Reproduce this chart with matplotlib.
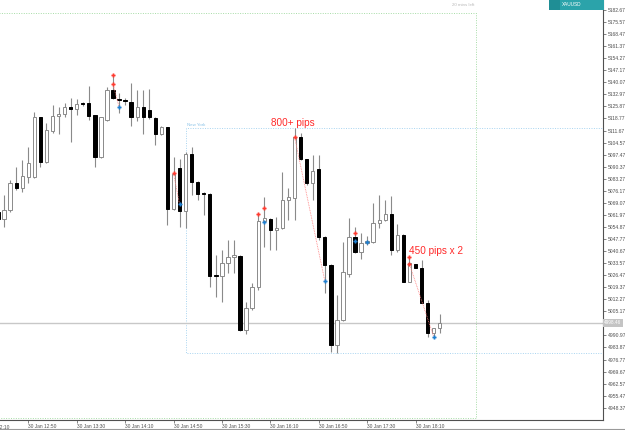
import numpy as np
import matplotlib
matplotlib.use("Agg")
import matplotlib.pyplot as plt
from matplotlib.patches import Rectangle

# ---------------- data (XAUUSD, M5, 30 Jan) ----------------
first_time = "12:25"   # time of first (partially visible) candle
bar_minutes = 5

opens = [5063.9, 5059.4, 5064.9, 5080.6, 5077.6, 5084.5, 5084.1, 5119.5, 5093.3, 5111.6,
         5120.4, 5121.2, 5125.5, 5124.2, 5127.7, 5127.7, 5120.6, 5096.3, 5117.9, 5135.5,
         5130.2, 5129.5, 5128.6, 5119.5, 5125.3, 5123.8, 5118.9, 5109.6, 5113.6, 5065.3,
         5089.4, 5064.3, 5097.8, 5081.5, 5075.0, 5074.3, 5026.4, 5026.0, 5033.5, 5037.0,
         5037.9, 4994.2, 5007.3, 5019.7, 5058.4, 5059.5, 5053.1, 5054.1, 5070.7, 5071.7,
         5108.0, 5094.7, 5080.6, 5088.8, 5049.1, 5032.5, 4985.3, 5000.1, 5027.2, 5049.1,
         5039.9, 5045.7, 5046.0, 5057.0, 5059.0, 5062.3, 5041.3, 5050.1, 5022.6, 5032.9,
         5030.5, 5010.2, 4992.2, 4995.2]
highs = [5065.4, 5073.7, 5082.5, 5090.4, 5094.3, 5101.8, 5122.8, 5119.8, 5115.9, 5126.7,
         5125.7, 5128.1, 5130.7, 5130.1, 5128.6, 5137.9, 5120.8, 5119.8, 5137.1, 5144.6,
         5133.6, 5130.7, 5139.8, 5135.5, 5135.5, 5136.1, 5119.6, 5114.3, 5113.9, 5096.1,
         5094.7, 5099.2, 5101.8, 5081.9, 5075.6, 5074.9, 5038.3, 5041.3, 5047.2, 5047.2,
         5038.3, 5010.8, 5022.0, 5062.5, 5072.3, 5060.0, 5060.6, 5087.4, 5077.6, 5113.0,
         5110.0, 5094.9, 5097.3, 5097.3, 5049.5, 5033.0, 5014.8, 5046.2, 5060.0, 5055.0,
         5051.1, 5049.5, 5068.8, 5073.7, 5070.7, 5073.1, 5056.6, 5050.7, 5037.0, 5033.0,
         5035.4, 5011.8, 4995.3, 5003.6]
lows = [5058.4, 5055.0, 5063.9, 5076.6, 5075.6, 5080.9, 5083.5, 5090.0, 5092.7, 5110.0,
        5109.6, 5119.5, 5105.1, 5120.8, 5126.1, 5117.9, 5090.0, 5095.3, 5117.5, 5130.1,
        5121.8, 5126.7, 5114.3, 5117.5, 5109.6, 5118.5, 5103.1, 5109.0, 5056.0, 5064.9,
        5055.0, 5054.1, 5073.7, 5070.7, 5061.9, 5019.3, 5013.4, 5010.8, 5027.6, 5027.9,
        4993.7, 4991.8, 5005.9, 5017.7, 5043.2, 5041.3, 5041.3, 5053.5, 5059.0, 5059.0,
        5094.3, 5079.6, 5070.7, 5047.2, 5015.8, 4981.4, 4980.4, 4999.5, 5025.6, 5039.3,
        5035.8, 5044.2, 5045.2, 5054.1, 5058.5, 5038.3, 5040.3, 5022.3, 5022.3, 5030.7,
        5010.1, 4990.2, 4990.0, 4992.2]
closes = [5059.4, 5064.9, 5080.6, 5077.6, 5084.9, 5092.4, 5119.5, 5093.3, 5112.0, 5120.2,
          5121.4, 5125.7, 5124.4, 5127.3, 5127.3, 5120.2, 5096.3, 5119.5, 5135.5, 5130.7,
          5129.7, 5128.9, 5119.5, 5125.3, 5119.8, 5119.6, 5109.6, 5113.6, 5065.3, 5086.1,
          5064.3, 5097.8, 5081.5, 5074.3, 5074.3, 5026.0, 5026.0, 5033.5, 5037.3, 5038.3,
          4994.2, 5007.3, 5019.3, 5058.4, 5060.0, 5053.1, 5054.4, 5070.7, 5072.3, 5108.0,
          5094.7, 5080.6, 5088.0, 5049.1, 5032.5, 4985.3, 5000.1, 5028.2, 5049.1, 5039.9,
          5045.2, 5046.3, 5057.0, 5059.0, 5062.3, 5041.3, 5050.1, 5022.6, 5033.5, 5030.9,
          5010.2, 4992.2, 4995.2, 4998.5]

current_price = 4998.46

# signal arrows
sell_times = ["14:00", "14:00", "14:50", "16:00", "16:05", "16:30", "17:20", "18:05", "18:05"]
sell_prices = [5144.6, 5139.1, 5086.5, 5062.3, 5065.9, 5108.0, 5051.1, 5037.0, 5033.0]
exit_times = ["14:05", "14:55", "16:05", "16:55", "17:20", "17:30", "18:25"]
exit_prices = [5125.5, 5068.2, 5057.6, 5023.2, 5046.8, 5046.0, 4990.2]
trade_from_times = ["14:00", "14:50", "16:30", "18:05"]
trade_from_prices = [5139.1, 5086.5, 5108.0, 5033.0]
trade_to_times = ["14:05", "14:55", "16:55", "18:25"]
trade_to_prices = [5125.5, 5068.2, 5023.2, 4990.2]

# price axis ticks
price_ticks = [4948.37, 4955.47, 4962.57, 4969.67, 4976.77, 4983.87, 4990.97, 4998.07,
               5005.17, 5012.27, 5019.37, 5026.47, 5033.57, 5040.67, 5047.77, 5054.87,
               5061.97, 5069.07, 5076.17, 5083.27, 5090.37, 5097.47, 5104.57, 5111.67,
               5118.77, 5125.87, 5132.97, 5140.07, 5147.17, 5154.27, 5161.37, 5168.47,
               5175.57, 5182.67]
hidden_tick = 4998.07  # covered by the current-price label
time_ticks = ["12:10", "12:50", "13:30", "14:10", "14:50", "15:30", "16:10", "16:50",
              "17:30", "18:10"]
date_label = "30 Jan"

session_name = "New York"
session_start = "15:00"
range_box_end = "19:00"
range_box_top = 5180.9
range_box_bottom = 4942.3

# ---------------- helpers ----------------
def minutes(t):
    h, m = t.split(":")
    return int(h) * 60 + int(m)

def pos(t):
    # bar position, 12:30 candle = 0
    return (minutes(t) - minutes("12:30")) / bar_minutes

n = len(opens)
xs = np.array([pos(first_time) + k for k in range(n)])
O = np.array(opens); H = np.array(highs); L = np.array(lows); C = np.array(closes)

# ---------------- figure ----------------
W, Hpx = 625, 430
fig = plt.figure(figsize=(W / 100, Hpx / 100), dpi=100)
fig.patch.set_facecolor("white")
ax = fig.add_axes([0, 10 / Hpx, 603 / W, 420 / Hpx])
ax.set_facecolor("white")

ax.set_xlim(-0.678, 98.99)
ax.set_ylim(4941.14, 5188.56)

# range box (green dotted)
ax.plot([-5, pos(range_box_end), pos(range_box_end), -5],
        [range_box_top, range_box_top, range_box_bottom, range_box_bottom],
        color="#a6dca6", lw=0.7, ls=(0, (1, 1.5)), zorder=1)

# session box (light blue dotted)
sess_mask = xs >= pos(session_start)
s_top = H[sess_mask].max(); s_bot = L[sess_mask].min()
ax.plot([120, pos(session_start), pos(session_start), 120],
        [s_top, s_top, s_bot, s_bot],
        color="#a8d4f0", lw=0.7, ls=(0, (1, 1.5)), zorder=1)
ax.text(pos(session_start) + 0.3, s_top + 1.0, session_name, fontsize=3.2,
        color="#8cc4e8", family="Liberation Sans", va="bottom", ha="left")

# current price line
ax.axhline(current_price, color="#c8c8c8", lw=1.0, zorder=1)

# wicks
ax.vlines(xs, L, H, color="#8a8a8a", lw=0.8, zorder=2)
# bodies
bull = C >= O
bw = 0.56
ax.bar(xs[bull], C[bull] - O[bull], bottom=O[bull], width=bw,
       facecolor="white", edgecolor="#8a8a8a", lw=0.7, zorder=3)
ax.bar(xs[~bull], C[~bull] - O[~bull], bottom=O[~bull], width=bw,
       facecolor="black", edgecolor="black", lw=0.7, zorder=3)

# trade lines
for t0, p0, t1, p1 in zip(trade_from_times, trade_from_prices, trade_to_times, trade_to_prices):
    ax.plot([pos(t0), pos(t1)], [p0, p1], color="#ff8080", lw=0.6, ls=(0, (1, 1)), zorder=4)

# arrows
ax.plot([pos(t) for t in sell_times], sell_prices, ls="none", marker="P",
        ms=2.7, mfc="#ff3b30", mec="#ff3b30", mew=0.2, zorder=5)
ax.plot([pos(t) for t in exit_times], exit_prices, ls="none", marker="P",
        ms=2.7, mfc="#1f7fd0", mec="#1f7fd0", mew=0.2, zorder=5)

# annotations
ax.text(pos("16:30") - 0.3, 5116.2, "800+ pips", color="#ff2a2a", fontsize=7.2,
        family="Liberation Sans", ha="center", va="center", zorder=6)
ax.text(66.9, 5040.7, "450 pips x 2", color="#ff2a2a", fontsize=7.2,
        family="Liberation Sans", ha="left", va="center", zorder=6)

# axes styling
for s in ["top", "left"]:
    ax.spines[s].set_visible(False)
for s in ["right", "bottom"]:
    ax.spines[s].set_color("#505050")
    ax.spines[s].set_linewidth(0.8)

ax.yaxis.tick_right()
shown = [p for p in price_ticks if p != hidden_tick]
ax.set_yticks(shown)
ax.set_yticklabels([f"{p:.2f}" for p in shown])
ax.tick_params(axis="y", direction="out", length=2.5, width=0.5, color="#505050",
               labelsize=3.6, labelcolor="#505050", pad=1)
for lab in ax.get_yticklabels():
    lab.set_family("Liberation Sans")

tick_pos = [pos(t) for t in time_ticks]
vis = [(p, t) for p, t in zip(tick_pos, time_ticks) if p >= -0.678]
ax.set_xticks([p for p, _ in vis])
ax.set_xticklabels([f"{date_label} {t}" for _, t in vis])
ax.tick_params(axis="x", direction="out", length=2.5, width=0.5, color="#505050",
               labelsize=3.5, labelcolor="#505050", pad=0.5)
for lab in ax.get_xticklabels():
    lab.set_ha("left")
    lab.set_family("Liberation Sans")
# partially visible first time label (cut by the left edge, as in the reference)
for p, t in zip(tick_pos, time_ticks):
    if p < -0.678:
        ax.text(p + 0.15, -0.012, f"{date_label} {t}", transform=ax.get_xaxis_transform(),
                fontsize=3.5, color="#505050", family="Liberation Sans",
                ha="left", va="top", clip_on=False)

# current price label on the axis
ax.text(1.002, current_price, f"{current_price:.2f}", transform=ax.get_yaxis_transform(),
        fontsize=3.4, color="white", family="Liberation Sans", ha="left", va="center",
        bbox=dict(boxstyle="square,pad=0.35", fc="#c4c4c4", ec="none"), clip_on=False)

# top bits
fig.text(474 / W, 1 - 5.5 / Hpx, "20 mins left", fontsize=3.2, color="#b8b8b8",
         family="Liberation Sans", ha="right", va="center")
fig.patches.append(Rectangle((549 / W, 1 - 10 / Hpx), 51 / W, 10 / Hpx,
                             transform=fig.transFigure, fc="#2ba3aa", ec="none"))
fig.patches.append(Rectangle((549 / W, 1 - 10 / Hpx), 11 / W, 10 / Hpx,
                             transform=fig.transFigure, fc="#1f8e95", ec="none"))
fig.patches.append(Rectangle((600 / W, 1 - 10 / Hpx), 4 / W, 10 / Hpx,
                             transform=fig.transFigure, fc="#2ba3aa", ec="none"))
fig.text(562 / W, 1 - 5 / Hpx, "XAUUSD", fontsize=3.4, color="white",
         family="Liberation Sans", ha="left", va="center")

# bottom window border
fig.add_artist(plt.Line2D([0, 1], [1.5 / Hpx, 1.5 / Hpx], transform=fig.transFigure,
                          color="#9a9a9a", lw=0.8))

fig.savefig("out.png", dpi=100, facecolor="white")
